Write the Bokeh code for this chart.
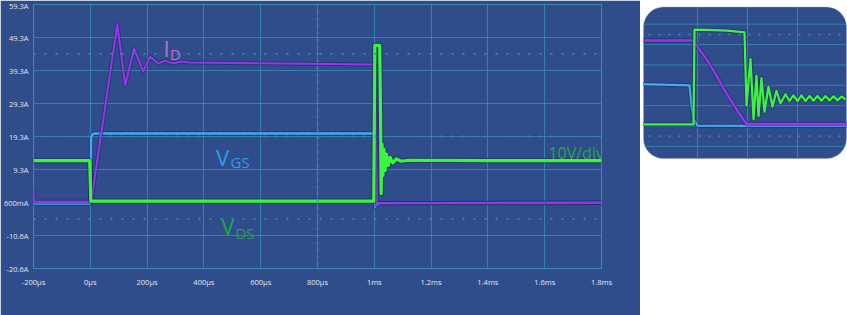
from bokeh.plotting import figure
from bokeh.layouts import row
from bokeh.models import Range1d, FixedTicker, Span, BoxAnnotation
from bokeh.core.properties import value
from bokeh.embed import file_html
from bokeh.resources import INLINE

# ---------------- main scope capture data (time in µs, value on 10 A/div scale) -------------
x_ticks = [-200, 0, 200, 400, 600, 800, 1000, 1200, 1400, 1600, 1800]
x_labels = ["-200µs", "0µs", "200µs", "400µs", "600µs", "800µs", "1ms", "1.2ms", "1.4ms", "1.6ms", "1.8ms"]
y_ticks = [-20.7, -10.7, -0.7, 9.3, 19.3, 29.3, 39.3, 49.3, 59.3]
y_labels = ["-20.6A", "-10.6A", "600mA", "9.3A", "19.3A", "29.3A", "39.3A", "49.3A", "59.3A"]

vds_t = [-200, -2, 2, 500, 998, 1002, 1019, 1022, 1024, 1027, 1030, 1034, 1038, 1043, 1049, 1056,
         1065, 1078, 1095, 1120, 1400, 1800]
vds_v = [12.0, 12.0, -0.3, -0.3, -0.3, 46.9, 46.9, 26.0, 2.0, 17.0, 7.5, 15.5, 9.0, 14.0, 10.5,
         13.0, 11.3, 12.5, 11.8, 12.1, 12.0, 12.0]

vgs_t = [-200, -1, 1, 3, 8, 15, 500, 999, 1001, 1004, 1010, 1800]
vgs_v = [-1.0, -1.0, 1.0, 19.0, 20.0, 20.2, 20.2, 20.2, 10.0, -2.0, -0.9, -0.8]

id_t = [-200, -198, 3, 95, 123, 154, 186, 211, 239, 264, 292, 320, 350, 600, 1003, 1009, 1020, 1800]
id_v = [3.0, -0.5, -0.5, 53.2, 34.8, 46.0, 39.0, 43.5, 41.4, 42.3, 41.4, 42.0, 41.7, 41.5, 41.1, -1.5,
        -0.9, -0.7]

# ---------------- inset (zoomed turn-off), time and level in divisions ---------------------------
in_id_t = [-0.08, 0.92, 1.0, 1.1, 1.2, 1.35, 1.52, 1.66, 1.8, 1.9, 1.98, 3.98]
in_id_v = [4.2, 4.2, 3.9, 3.55, 3.21, 2.6, 1.85, 1.28, 0.74, 0.38, 0.1, 0.1]

in_vgs_t = [-0.08, 0.84, 0.88, 0.92, 1.0, 3.98]
in_vgs_v = [2.06, 2.0, 1.0, 0.35, 0.02, 0.0]

in_vds_t = [-0.08, 0.92, 0.94, 1.2, 1.6, 1.94, 1.98, 2.06, 2.12, 2.18, 2.22, 2.28, 2.34, 2.42, 2.5,
            2.58, 2.66, 2.76, 2.84, 2.92, 3.0, 3.08, 3.16, 3.24, 3.32, 3.4, 3.48, 3.56, 3.64, 3.72,
            3.8, 3.88, 3.96]
in_vds_v = [0.08, 0.08, 4.73, 4.72, 4.68, 4.6, 1.0, 3.29, 0.33, 2.47, 0.49, 2.35, 0.7, 1.93, 0.95,
            1.73, 1.11, 1.56, 1.23, 1.5, 1.22, 1.5, 1.22, 1.48, 1.24, 1.48, 1.24, 1.47, 1.25, 1.46,
            1.26, 1.45, 1.3]

in_x_grid = [1, 2, 3]
in_y_grid = [-1, 0, 1, 2, 3, 4, 5]
in_y_dots = [4.5, -0.5]

# ---------------- styles ---------------------------------------------------------------------------
BG = "#2f4d8b"
GRID = "#3a88b4"
GREEN = "#3cf53c"
BLUE = "#45a8f0"
PURPLE = "#9a35ee"
SHADOW = "#16224e"
TICK_TXT = "#e2e6f0"
FONT = "Open Sans"


def trace(p, t, v, color, width):
    p.line(t, v, line_color=SHADOW, line_alpha=0.45, line_width=width + 2, line_join="round")
    p.line(t, v, line_color=color, line_width=width, line_join="round")


p = figure(width=640, height=315, output_backend="svg", toolbar_location=None,
           x_range=Range1d(-200, 1800), y_range=Range1d(-20.7, 59.3),
           min_border_left=32, min_border_right=39, min_border_top=4, min_border_bottom=47)
p.background_fill_color = BG
p.border_fill_color = BG
p.outline_line_color = GRID
p.outline_line_alpha = 0.85

for ax in (p.xaxis[0], p.yaxis[0]):
    ax.axis_line_color = None
    ax.major_tick_line_color = None
    ax.minor_tick_line_color = None
    ax.major_tick_out = 0
    ax.major_tick_in = 0
    ax.minor_tick_out = 0
    ax.minor_tick_in = 0
    ax.major_label_text_color = TICK_TXT
    ax.major_label_text_font = FONT
    ax.major_label_text_font_size = "7.5px"

p.xaxis.ticker = FixedTicker(ticks=x_ticks)
p.xaxis.major_label_overrides = dict(zip(x_ticks, x_labels))
p.xaxis.major_label_standoff = 8
p.yaxis.ticker = FixedTicker(ticks=y_ticks)
p.yaxis.major_label_overrides = dict(zip(y_ticks, y_labels))
p.yaxis.major_label_standoff = 5

p.xgrid.ticker = FixedTicker(ticks=x_ticks)
p.ygrid.ticker = FixedTicker(ticks=y_ticks)
for g in (p.xgrid[0], p.ygrid[0]):
    g.grid_line_color = GRID
    g.grid_line_alpha = 0.85
    g.grid_line_width = 1

# dotted graticule rows and centre tick marks
for loc in (44.3, -5.7):
    p.add_layout(Span(location=loc, dimension="width", line_color=GRID, line_alpha=0.9,
                      line_width=2, line_dash="2 9"))
p.add_layout(Span(location=19.3, dimension="width", line_color=GRID, line_alpha=0.8,
                  line_width=3, line_dash="1 10"))
p.add_layout(Span(location=800, dimension="height", line_color=GRID, line_alpha=0.8,
                  line_width=3, line_dash="1 6"))

trace(p, vgs_t, vgs_v, BLUE, 2.4)
trace(p, id_t, id_v, PURPLE, 2.0)
trace(p, vds_t, vds_v, GREEN, 3.2)

# labels
def label(x, y, txt, size, color):
    p.text(x=[x], y=[y], text=[txt], text_font=value(FONT), text_font_size=size,
           text_color=color, text_baseline="alphabetic", text_align="left")

label(258, 45.97, "I", "22px", "#c466e8")
label(281, 44.45, "D", "15px", "#c466e8")
label(443, 12.94, "V", "22px", "#2b9fe6")
label(494, 11.7, "GS", "15px", "#2b9fe6")
label(461, -7.67, "V", "22px", "#1ca83c")
label(511, -9.8, "DS", "15px", "#1ca83c")
label(1613, 14.15, "10V/div", "16px", "#25a84a")

# ---------------- inset figure -------------------------------------------------------------------
q = figure(width=207, height=315, output_backend="svg", toolbar_location=None,
           x_range=Range1d(-0.14, 4.0), y_range=Range1d(-6.996, 5.967),
           x_axis_type=None, y_axis_type=None,
           min_border_left=0, min_border_right=0, min_border_top=0, min_border_bottom=0)
q.background_fill_color = "white"
q.border_fill_color = "white"
q.outline_line_color = None
q.grid.visible = False

box_l, box_r, box_t, box_b = -0.08, 3.98, 5.84, -1.6
q.add_layout(BoxAnnotation(left=box_l, right=box_r, top=box_t, bottom=box_b, fill_color=BG,
                           fill_alpha=1.0, line_color="#8ea3cc", line_width=1.2,
                           border_radius=20, level="underlay"))
q.segment(x0=in_x_grid, x1=in_x_grid, y0=[box_b] * len(in_x_grid), y1=[box_t] * len(in_x_grid),
          line_color=GRID, line_alpha=0.85, line_width=1)
q.segment(x0=[box_l + 0.02] * len(in_y_grid), x1=[box_r - 0.02] * len(in_y_grid),
          y0=in_y_grid, y1=in_y_grid, line_color=GRID, line_alpha=0.85, line_width=1)
q.segment(x0=[box_l + 0.1] * len(in_y_dots), x1=[box_r - 0.1] * len(in_y_dots),
          y0=in_y_dots, y1=in_y_dots, line_color=GRID, line_alpha=0.9, line_width=2,
          line_dash="2 8")

trace(q, in_vgs_t, in_vgs_v, BLUE, 2.2)
trace(q, in_id_t, in_id_v, PURPLE, 2.4)
trace(q, in_vds_t, in_vds_v, GREEN, 2.2)

layout = row(p, q)
open("out.html", "w").write(file_html(layout, INLINE))
